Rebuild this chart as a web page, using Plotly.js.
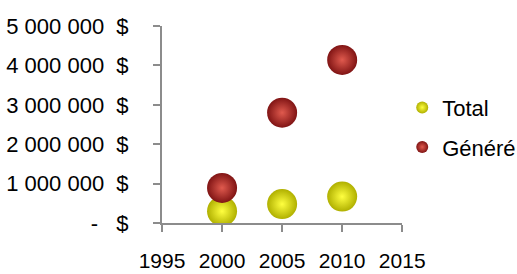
<!DOCTYPE html>
<html><head><meta charset="utf-8">
<script src="https://cdn.plot.ly/plotly-3.0.1.min.js"></script>
<style>html,body{margin:0;padding:0;background:#fff}#c{width:517px;height:274px}</style>
</head><body><div id="c"></div>
<script>
const years = [2000, 2005, 2010];
const total = [300000, 480000, 670000];
const genere = [890000, 2800000, 4140000];
const seriesNames = ['Total', 'Généré'];
const yTickVals = [0, 1000000, 2000000, 3000000, 4000000, 5000000];
const yTickText = ['-\u00a0\u00a0\u00a0$', '1 000 000\u00a0\u00a0$', '2 000 000\u00a0\u00a0$', '3 000 000\u00a0\u00a0$', '4 000 000\u00a0\u00a0$', '5 000 000\u00a0\u00a0$'];
const xTickVals = [1995, 2000, 2005, 2010, 2015];

const font = {family: 'Liberation Sans, Arial, sans-serif', size: 22, color: '#000'};
const xfont = {family: 'Liberation Sans, Arial, sans-serif', size: 21, color: '#000'};
const traces = [
  {x: years, y: total, name: seriesNames[0], type: 'scatter', mode: 'markers', legendgroup: 'a',
   marker: {size: 30, color: '#b0b000', gradient: {type: 'radial', color: '#ffff40'}, line: {width: 0}}},
  {x: years, y: genere, name: seriesNames[1], type: 'scatter', mode: 'markers', legendgroup: 'b',
   marker: {size: 30, color: '#801414', gradient: {type: 'radial', color: '#e05a4e'}, line: {width: 0}}}
];
const axisCommon = {showgrid: false, zeroline: false, showline: true, linecolor: '#8c8c8c', linewidth: 2,
  ticks: 'outside', ticklen: 7, tickwidth: 2, tickcolor: '#8c8c8c', fixedrange: true};
const layout = {
  width: 517, height: 274,
  margin: {l: 162, r: 108, t: 26, b: 51, pad: 0},
  paper_bgcolor: '#fff', plot_bgcolor: '#fff',
  font: font,
  showlegend: true,
  legend: {x: 0.778, y: 0.684, xref: 'container', yref: 'container', xanchor: 'left', yanchor: 'top',
    font: font, tracegroupgap: 8, traceorder: 'grouped', itemsizing: 'constant', bgcolor: 'rgba(0,0,0,0)'},
  xaxis: Object.assign({}, axisCommon, {range: [1995, 2015], tickvals: xTickVals, tickfont: xfont, ticklabelstandoff: 11}),
  yaxis: Object.assign({}, axisCommon, {range: [0, 5000000], tickvals: yTickVals, ticktext: yTickText, tickfont: font, ticklabelstandoff: 20})
};
Plotly.newPlot('c', traces, layout, {displayModeBar: false, staticPlot: true});
</script></body></html>
